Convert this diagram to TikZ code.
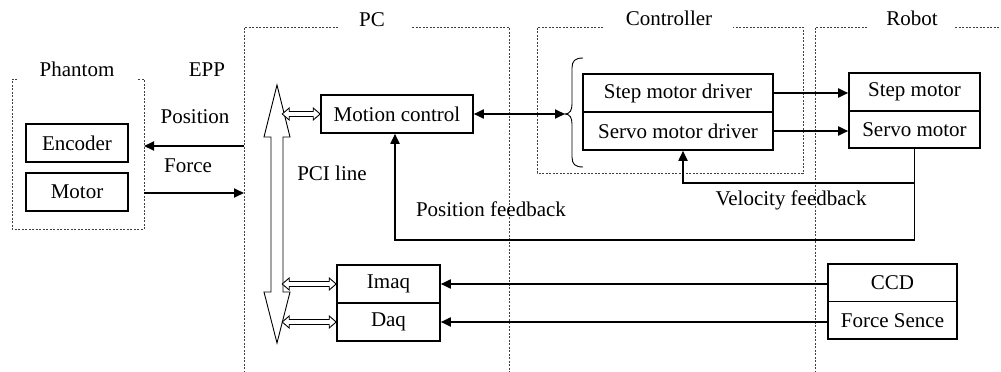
\documentclass[tikz,border=0pt]{standalone}
\usepackage{fontspec}
\setmainfont{Liberation Serif}
\usetikzlibrary{arrows.meta,calc}
\newcommand\hdbl[2]{\draw[hollow] (#1) -- ++(-7,-6) -- ++(0,3.5) -- ++({-(#2-14)},0) -- ++(0,-3.5) -- ++(-7,6) -- ++(7,6) -- ++(0,-3.5) -- ++({#2-14},0) -- ++(0,3.5) -- cycle;}
\begin{document}
\begin{tikzpicture}[x=1pt,y=-1pt,
  box/.style={draw, line width=1.6pt, minimum height=38pt, inner sep=0pt, font=\fontsize{21}{25}\selectfont},
  lbl/.style={font=\fontsize{21}{25}\selectfont, inner sep=0pt, anchor=base},
  frame/.style={draw=black!75, line width=0.9pt, dash pattern=on 2pt off 1.5pt},
  conn/.style={line width=1.8pt, -{Triangle[length=10pt,width=9pt]}},
  biconn/.style={line width=1.8pt, {Triangle[length=10pt,width=9pt]}-{Triangle[length=10pt,width=9pt]}},
  hollow/.style={draw, fill=white, line width=0.9pt, line join=miter}]
\useasboundingbox (0,0) rectangle (1001,372);

% dashed frames
\draw[frame] (17,79) -- (12,79) -- (12,229) -- (144,229) -- (144,79) -- (138,79);
\draw[frame] (338,27) -- (244,27) -- (244,372);
\draw[frame] (412,27) -- (509,27) -- (509,372);
\draw[frame] (603,27) -- (537,27) -- (537,173) -- (803,173) -- (803,27) -- (733,27);
\draw[frame] (867,27) -- (815,27) -- (815,372);
\draw[frame] (955,27) -- (1001,27);

% labels
\node[lbl] (lph) at (77,76) {Phantom};
\node[lbl] (lepp) at (207,76) {EPP};
\node[lbl] (lpc) at (372,26) {PC};
\node[lbl] (lctl) at (669,25) {Controller};
\node[lbl] (lrob) at (912,25) {Robot};
\node[lbl] (lpos) at (195,123) {Position};
\node[lbl] (lfor) at (188,172) {Force};
\node[lbl] (lpci) at (332,180) {PCI line};
\node[lbl] (lpfb) at (491,216) {Position feedback};
\node[lbl] (lvfb) at (791,205) {Velocity feedback};

% boxes
\node[box, minimum width=102pt] (enc) at (77,143) {Encoder};
\node[box, minimum width=102pt] (mot) at (77,192) {Motor};
\node[box, minimum width=152pt] (mc) at (397,114) {Motion control};
\node[box, minimum width=190pt] (smd) at (678,93) {Step motor driver};
\node[box, minimum width=190pt] (svd) at (678,131) {Servo motor driver};
\node[box, minimum width=131pt, minimum height=37.5pt] (sm) at (914.5,92) {Step motor};
\node[box, minimum width=131pt, minimum height=37.5pt] (svm) at (914.5,129.5) {Servo motor};
\node[box, minimum width=103pt] (imaq) at (388.5,284) {Imaq};
\node[box, minimum width=103pt] (daq) at (388.5,322) {Daq};
\node[box, minimum width=129pt, minimum height=37.5pt] (ccd) at (892.5,282.75) {CCD};
\node[box, minimum width=129pt, minimum height=37.5pt] (fs) at (892.5,320.25) {Force Sence};

% EPP connectors
\coordinate (phR1) at (144,146);
\coordinate (pcL1) at (244,146);
\coordinate (phR2) at (144,193);
\coordinate (pcL2) at (244,193);
\draw[conn] (pcL1) -- (phR1);
\draw[conn] (phR2) -- (pcL2);

% PCI bus
\draw[hollow] (277,85) -- (290,137) -- (283,137) -- (283,292) -- (290,292) -- (277,343)
  -- (264,292) -- (271,292) -- (271,137) -- (264,137) -- cycle;
\hdbl{mc.west}{38}
\hdbl{imaq.west}{54}
\hdbl{daq.west}{54}

% brace
\coordinate (bt) at (565,114);
\draw[line width=0.9pt] (583,58) .. controls (575,58) and (572,61) .. (572,68) -- (572,104)
  .. controls (572,110) and (570,114) .. (bt) .. controls (570,114) and (572,118) .. (572,124)
  -- (572,157) .. controls (572,164) and (575,167) .. (583,167);
\draw[biconn] (mc.east) -- (bt);

% drivers to motors
\draw[conn] (smd.east) -- (smd.east -| sm.west);
\draw[conn] (svd.east) -- (svd.east -| svm.west);

% feedback
\coordinate (vb) at (914.5,183);
\coordinate (pb) at (914.5,240);
\draw[line width=1.8pt] (svm.south) -- (pb);
\draw[conn] (vb) -| ($(svd.south)+(5,0)$);
\draw[conn] (pb) -| ($(mc.south)+(-2,0)$);

% sensors
\draw[conn] (imaq.east -| ccd.west) -- (imaq.east);
\draw[conn] (daq.east -| fs.west) -- (daq.east);
\end{tikzpicture}
\end{document}
